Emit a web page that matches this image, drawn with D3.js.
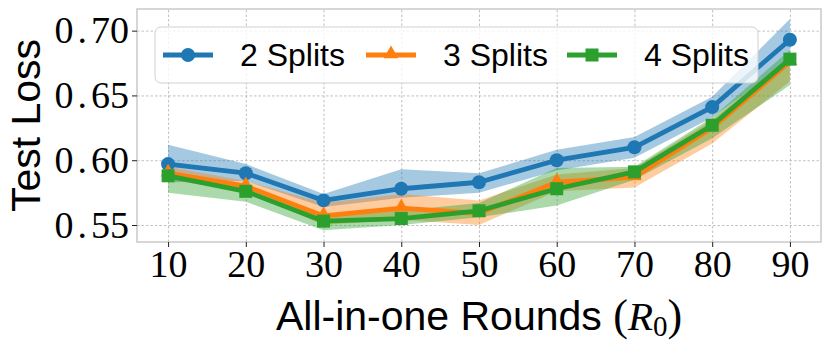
<!DOCTYPE html>
<html lang="en">
    <head>
        <meta charset="utf-8">
        <title>Test Loss vs All-in-one Rounds</title>
        <script type="text/javascript" src="https://cdn.jsdelivr.net/npm/d3@7"></script>
        <style>
            body { margin: 0; background: #fff; }
        </style>
    </head>
    <body>
        <script type="text/javascript">
            // data
            var rounds = [10, 20, 30, 40, 50, 60, 70, 80, 90];
            var yTicks = [0.55, 0.60, 0.65, 0.70];
            var seriesNames = ["2 Splits", "3 Splits", "4 Splits"];

            var split2 = [0.597, 0.590, 0.569, 0.578, 0.583, 0.600, 0.610, 0.641, 0.693];
            var split2Low = [0.583, 0.584, 0.564, 0.571, 0.575, 0.592, 0.602, 0.633, 0.677];
            var split2High = [0.612, 0.597, 0.574, 0.593, 0.590, 0.608, 0.618, 0.649, 0.709];

            var split3 = [0.590, 0.580, 0.557, 0.563, 0.559, 0.583, 0.587, 0.625, 0.676];
            var split3Low = [0.585, 0.576, 0.550, 0.554, 0.550, 0.576, 0.579, 0.613, 0.661];
            var split3High = [0.595, 0.584, 0.567, 0.574, 0.569, 0.589, 0.594, 0.631, 0.680];

            var split4 = [0.588, 0.576, 0.553, 0.555, 0.561, 0.578, 0.591, 0.627, 0.678];
            var split4Low = [0.575, 0.568, 0.546, 0.550, 0.556, 0.565, 0.585, 0.617, 0.658];
            var split4High = [0.592, 0.579, 0.559, 0.561, 0.567, 0.594, 0.595, 0.633, 0.685];

            var colors = ["#1f77b4", "#ff7f0e", "#2ca02c"];
            var markers = ["circle", "triangle", "square"];

            var svgWidth = 830;
            var svgHeight = 350;
            var plotLeft = 137, plotRight = 821, plotTop = 9, plotBottom = 242;

            var svg = d3.select("body")
                        .append("svg")
                        .attr("width", svgWidth)
                        .attr("height", svgHeight);

            var xScale = d3.scaleLinear()
                           .domain([6, 94])
                           .range([plotLeft, plotRight]);

            var yScale = d3.scaleLinear()
                           .domain([0.5369, 0.7167])
                           .range([plotBottom, plotTop]);

            //grid lines
            svg.append("g")
               .attr("transform", "translate(0," + plotBottom + ")")
               .call(d3.axisBottom(xScale).tickValues(rounds).tickSize(-(plotBottom - plotTop)).tickFormat(""))
               .call(function(g) { g.select(".domain").remove(); })
               .selectAll("line")
               .attr("stroke", "#b0b0b0")
               .attr("stroke-width", 0.8)
               .attr("stroke-dasharray", "2.5,2");

            svg.append("g")
               .attr("transform", "translate(" + plotLeft + ",0)")
               .call(d3.axisLeft(yScale).tickValues(yTicks).tickSize(-(plotRight - plotLeft)).tickFormat(""))
               .call(function(g) { g.select(".domain").remove(); })
               .selectAll("line")
               .attr("stroke", "#b0b0b0")
               .attr("stroke-width", 0.8)
               .attr("stroke-dasharray", "2.5,2");

            var series = [
                { mean: split2, low: split2Low, high: split2High },
                { mean: split3, low: split3Low, high: split3High },
                { mean: split4, low: split4Low, high: split4High }
            ];

            var area = d3.area()
                         .x(function(d) { return xScale(d.x); })
                         .y0(function(d) { return yScale(d.lo); })
                         .y1(function(d) { return yScale(d.hi); });

            var line = d3.line()
                         .x(function(d) { return xScale(d.x); })
                         .y(function(d) { return yScale(d.y); });

            // bands first, lines on top
            series.forEach(function(s, k) {
                var pts = rounds.map(function(r, i) { return { x: r, lo: s.low[i], hi: s.high[i] }; });
                svg.append("path")
                   .datum(pts)
                   .attr("d", area)
                   .attr("fill", colors[k])
                   .attr("fill-opacity", 0.4);
            });

            function drawMarker(g, type, cx, cy, color) {
                if (type == "circle") {
                    g.append("circle").attr("cx", cx).attr("cy", cy).attr("r", 7).attr("fill", color);
                } else if (type == "square") {
                    g.append("rect").attr("x", cx - 6.5).attr("y", cy - 6.5)
                     .attr("width", 13).attr("height", 13).attr("fill", color);
                } else {
                    g.append("path")
                     .attr("d", d3.symbol().type(d3.symbolTriangle).size(95)())
                     .attr("transform", "translate(" + cx + "," + (cy - 1) + ")")
                     .attr("fill", color);
                }
            }

            series.forEach(function(s, k) {
                var pts = rounds.map(function(r, i) { return { x: r, y: s.mean[i] }; });
                var g = svg.append("g");
                g.append("path")
                 .datum(pts)
                 .attr("d", line)
                 .attr("fill", "none")
                 .attr("stroke", colors[k])
                 .attr("stroke-width", 4.8)
                 .attr("stroke-linejoin", "round");
                pts.forEach(function(p) {
                    drawMarker(g, markers[k], xScale(p.x), yScale(p.y), colors[k]);
                });
            });

            //frame
            svg.append("rect")
               .attr("x", plotLeft)
               .attr("y", plotTop)
               .attr("width", plotRight - plotLeft)
               .attr("height", plotBottom - plotTop)
               .attr("fill", "none")
               .attr("stroke", "#cccccc")
               .attr("stroke-width", 1.6);

            //axes
            var xAxis = d3.axisBottom(xScale).tickValues(rounds).tickSize(5).tickPadding(3);
            var X = svg.append("g")
                       .attr("transform", "translate(0," + plotBottom + ")")
                       .call(xAxis);
            X.select(".domain").remove();
            X.selectAll("line").attr("stroke", "#222").attr("stroke-width", 1);
            X.selectAll("text")
             .attr("font-family", "'Liberation Serif', serif")
             .attr("font-size", "38px")
             .attr("fill", "#000");

            var yAxis = d3.axisLeft(yScale).tickValues(yTicks).tickSize(5).tickPadding(3);
            var Y = svg.append("g")
                       .attr("transform", "translate(" + plotLeft + ",0)")
                       .call(yAxis);
            Y.select(".domain").remove();
            Y.selectAll("line").attr("stroke", "#222").attr("stroke-width", 1);
            Y.selectAll("text")
             .attr("font-family", "'Liberation Serif', serif")
             .attr("font-size", "38px")
             .attr("fill", "#000")
             .each(function(d) {
                 var s = d3.format(".2f")(d).split(".");
                 var t = d3.select(this).text(null);
                 t.append("tspan").text(s[0]);
                 t.append("tspan").attr("dx", 4).text(".");
                 t.append("tspan").attr("dx", 4).text(s[1]);
             });

            //legend
            var legend = svg.append("g");
            legend.append("rect")
                  .attr("x", 155)
                  .attr("y", 27)
                  .attr("width", 603)
                  .attr("height", 56)
                  .attr("rx", 6)
                  .attr("fill", "#fff")
                  .attr("fill-opacity", 0.8)
                  .attr("stroke", "#d0d0d0")
                  .attr("stroke-width", 1);

            var handleX = [163, 366, 567];
            seriesNames.forEach(function(name, k) {
                var g = legend.append("g");
                g.append("line")
                 .attr("x1", handleX[k]).attr("x2", handleX[k] + 50)
                 .attr("y1", 55).attr("y2", 55)
                 .attr("stroke", colors[k])
                 .attr("stroke-width", 4.8);
                drawMarker(g, markers[k], handleX[k] + 25, 55, colors[k]);
                g.append("text")
                 .attr("x", handleX[k] + 77)
                 .attr("y", 66)
                 .attr("font-family", "'Liberation Sans', sans-serif")
                 .attr("font-size", "32px")
                 .text(name);
            });

            //axis titles
            var xl = svg.append("text")
                        .attr("x", (plotLeft + plotRight) / 2)
                        .attr("y", 330)
                        .attr("text-anchor", "middle")
                        .attr("font-family", "'Liberation Sans', sans-serif")
                        .attr("font-size", "41px");
            xl.append("tspan").text("All-in-one Rounds ");
            xl.append("tspan").attr("font-family", "'Liberation Serif', serif").attr("font-size", "44px").text("(");
            xl.append("tspan").attr("font-family", "'Liberation Serif', serif").attr("font-style", "italic").text("R");
            xl.append("tspan").attr("font-family", "'Liberation Serif', serif").attr("font-size", "29px").attr("dy", 6).text("0");
            xl.append("tspan").attr("font-family", "'Liberation Serif', serif").attr("font-size", "44px").attr("dy", -6).text(")");

            svg.append("text")
               .attr("transform", "translate(40," + ((plotTop + plotBottom) / 2) + ") rotate(-90)")
               .attr("text-anchor", "middle")
               .attr("font-family", "'Liberation Sans', sans-serif")
               .attr("font-size", "41px")
               .text("Test Loss");
        </script>
    </body>
</html>
